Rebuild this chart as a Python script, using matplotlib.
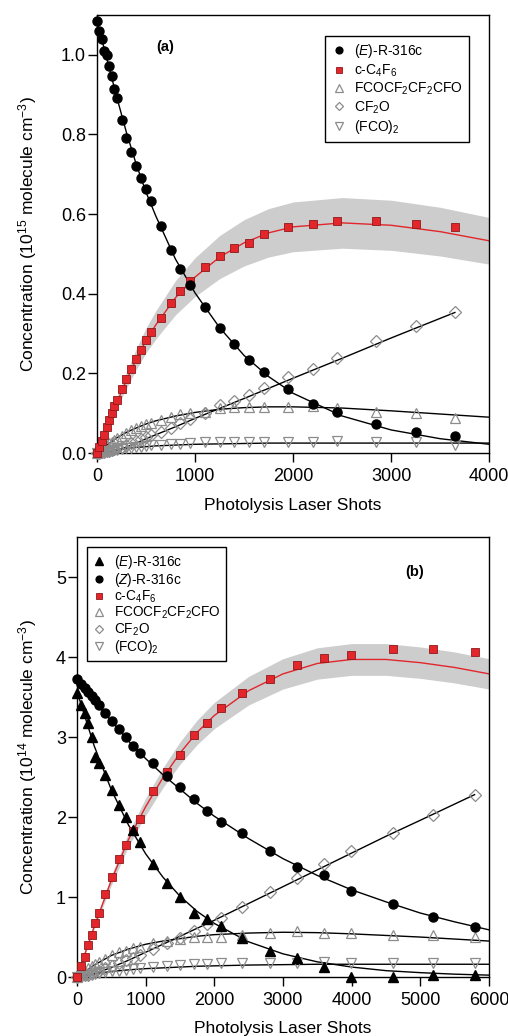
import numpy as np
import matplotlib
matplotlib.use('Agg')
import matplotlib.pyplot as plt

plt.rcParams['font.family'] = ['Liberation Sans', 'DejaVu Sans']
plt.rcParams['mathtext.fontset'] = 'custom'
plt.rcParams['mathtext.rm'] = 'Liberation Sans'
plt.rcParams['mathtext.it'] = 'Liberation Sans:italic'
plt.rcParams['mathtext.bf'] = 'Liberation Sans:bold'
plt.rcParams['mathtext.default'] = 'regular'

# ---- panel (a): (E)-R-316c photolysis ----
shots_a = [0, 25, 50, 75, 100, 125, 150, 175, 200, 250, 300, 350, 400, 450, 500, 550,
           650, 750, 850, 950, 1100, 1250, 1400, 1550, 1700, 1950, 2200, 2450, 2850, 3250, 3650]
e316c_a = [1.085, 1.060, 1.039, 1.009, 0.999, 0.972, 0.946, 0.915, 0.892, 0.837, 0.792, 0.755,
           0.721, 0.691, 0.662, 0.632, 0.570, 0.510, 0.462, 0.422, 0.367, 0.314, 0.274, 0.233,
           0.204, 0.162, 0.122, 0.102, 0.074, 0.054, 0.044]
c4f6_a = [0.0, 0.015, 0.030, 0.045, 0.066, 0.083, 0.100, 0.118, 0.132, 0.160, 0.185, 0.211,
          0.235, 0.260, 0.284, 0.304, 0.338, 0.376, 0.406, 0.432, 0.468, 0.494, 0.516, 0.528,
          0.549, 0.568, 0.574, 0.582, 0.582, 0.576, 0.568]
dicarb_a = [0.0, 0.005, 0.010, 0.015, 0.020, 0.024, 0.028, 0.033, 0.037, 0.044, 0.051, 0.057,
            0.062, 0.067, 0.072, 0.076, 0.083, 0.090, 0.097, 0.101, 0.104, 0.112, 0.115, 0.115,
            0.115, 0.115, 0.118, 0.112, 0.104, 0.100, 0.087]
cf2o_a = [0.0, 0.001, 0.002, 0.003, 0.004, 0.006, 0.008, 0.010, 0.012, 0.016, 0.020, 0.026,
          0.031, 0.036, 0.041, 0.046, 0.054, 0.064, 0.075, 0.085, 0.100, 0.120, 0.131, 0.146,
          0.163, 0.190, 0.212, 0.238, 0.282, 0.319, 0.353]
fco2_a = [0.0, 0.001, 0.002, 0.003, 0.004, 0.005, 0.006, 0.007, 0.008, 0.010, 0.012, 0.013,
          0.015, 0.016, 0.018, 0.019, 0.021, 0.022, 0.023, 0.024, 0.027, 0.028, 0.028, 0.028,
          0.027, 0.028, 0.027, 0.031, 0.027, 0.027, 0.020]

# model curves (a)
fit_shots_a = [0, 100, 200, 300, 400, 500, 600, 800, 1000, 1250, 1500, 1750, 2000, 2500, 3000, 3500, 4000]
e316c_fit_a = [1.085, 0.99, 0.895, 0.805, 0.725, 0.655, 0.595, 0.487, 0.402, 0.315, 0.245, 0.192,
               0.150, 0.093, 0.058, 0.036, 0.022]
c4f6_fit_a = [0.0, 0.062, 0.125, 0.183, 0.236, 0.283, 0.322, 0.390, 0.442, 0.492, 0.528, 0.553,
              0.568, 0.578, 0.572, 0.556, 0.533]
dicarb_fit_a = [0.0, 0.020, 0.038, 0.052, 0.063, 0.073, 0.081, 0.093, 0.102, 0.110, 0.114, 0.116,
                0.116, 0.113, 0.106, 0.098, 0.090]
fco2_fit_a = [0.0, 0.004, 0.008, 0.011, 0.014, 0.016, 0.018, 0.020, 0.022, 0.023, 0.024, 0.025,
              0.025, 0.025, 0.025, 0.025, 0.025]
cf2o_fit_shots_a = [0, 100, 200, 300, 400, 500, 600, 800, 1000, 1500, 2000, 2500, 3000, 3650]
cf2o_fit_a = [0.0, 0.002, 0.007, 0.015, 0.025, 0.036, 0.046, 0.066, 0.087, 0.137, 0.188, 0.238, 0.289, 0.353]
band_frac_a = 0.11

# ---- panel (b): (E)/(Z) mixture ----
shots_b = [0, 65, 115, 165, 215, 265, 320, 410, 515, 615, 715, 815, 915, 1110, 1305, 1500,
           1705, 1900, 2100, 2405, 2810, 3200, 3590, 3990, 4600, 5190, 5790]
e316c_b = [3.55, 3.40, 3.30, 3.17, 3.00, 2.75, 2.67, 2.53, 2.34, 2.15, 2.00, 1.84, 1.69, 1.41,
           1.18, 1.00, 0.80, 0.73, 0.64, 0.49, 0.33, 0.24, 0.12, 0.0, 0.0, 0.03, 0.02]
z316c_b = [3.73, 3.66, 3.61, 3.56, 3.51, 3.46, 3.40, 3.30, 3.20, 3.10, 3.00, 2.89, 2.80, 2.67,
           2.51, 2.38, 2.23, 2.07, 1.94, 1.80, 1.58, 1.37, 1.28, 1.08, 0.91, 0.75, 0.62]
c4f6_b = [0.0, 0.14, 0.25, 0.40, 0.53, 0.67, 0.80, 1.04, 1.25, 1.47, 1.65, 1.82, 1.98, 2.33,
          2.56, 2.78, 3.03, 3.17, 3.36, 3.55, 3.73, 3.90, 3.99, 4.03, 4.10, 4.10, 4.06]
dicarb_b = [0.0, 0.05, 0.08, 0.11, 0.14, 0.16, 0.19, 0.23, 0.27, 0.31, 0.33, 0.36, 0.38, 0.43,
            0.45, 0.48, 0.50, 0.50, 0.50, 0.53, 0.55, 0.57, 0.55, 0.55, 0.53, 0.52, 0.50]
cf2o_b = [0.0, 0.01, 0.02, 0.03, 0.05, 0.06, 0.08, 0.11, 0.14, 0.18, 0.21, 0.24, 0.27, 0.35,
          0.42, 0.49, 0.58, 0.66, 0.74, 0.87, 1.06, 1.24, 1.41, 1.57, 1.80, 2.03, 2.28]
fco2_b = [0.0, 0.01, 0.02, 0.03, 0.03, 0.04, 0.05, 0.06, 0.07, 0.08, 0.09, 0.10, 0.11, 0.12,
          0.14, 0.15, 0.16, 0.16, 0.17, 0.18, 0.18, 0.18, 0.19, 0.17, 0.18, 0.18, 0.17]

# model curves (b)
fit_shots_b = [0, 250, 500, 750, 1000, 1250, 1500, 1750, 2000, 2500, 3000, 3500, 4000, 4500, 5000, 5500, 6000]
e316c_fit_b = [3.57, 2.89, 2.34, 1.90, 1.54, 1.25, 1.01, 0.82, 0.67, 0.44, 0.29, 0.19, 0.125,
               0.08, 0.055, 0.036, 0.024]
z316c_fit_b = [3.72, 3.45, 3.20, 2.95, 2.73, 2.53, 2.35, 2.17, 2.01, 1.73, 1.48, 1.27, 1.09,
               0.94, 0.80, 0.69, 0.59]
c4f6_fit_b = [0.0, 0.63, 1.21, 1.72, 2.13, 2.49, 2.80, 3.06, 3.27, 3.58, 3.79, 3.92, 3.97,
              3.97, 3.93, 3.87, 3.79]
dicarb_fit_b = [0.0, 0.15, 0.27, 0.35, 0.41, 0.45, 0.48, 0.51, 0.53, 0.55, 0.56, 0.555, 0.54,
                0.52, 0.50, 0.475, 0.45]
fco2_fit_b = [0.0, 0.04, 0.07, 0.09, 0.105, 0.115, 0.125, 0.135, 0.14, 0.15, 0.155, 0.16, 0.16,
              0.16, 0.16, 0.16, 0.16]
cf2o_fit_shots_b = [0, 250, 500, 750, 1000, 1500, 2000, 2500, 3000, 3500, 4000, 4500, 5000, 5790]
cf2o_fit_b = [0.0, 0.04, 0.12, 0.21, 0.31, 0.51, 0.71, 0.92, 1.13, 1.34, 1.55, 1.76, 1.96, 2.28]
band_frac_b = 0.05

lab_e = '($\\mathit{E}$)-R-316c'
lab_z = '($\\mathit{Z}$)-R-316c'
lab_c4f6 = 'c-C$_4$F$_6$'
lab_dicarb = 'FCOCF$_2$CF$_2$CFO'
lab_cf2o = 'CF$_2$O'
lab_fco2 = '(FCO)$_2$'

RED = '#e2262b'
RED_EDGE = '#8e1a1a'
GREY = '#8c8c8c'


def fit_line(ax, x, y, color='black'):
    ax.plot(x, y, color=color, lw=1.0, zorder=3)


def open_points(ax, x, y, marker, ms):
    return ax.plot(x, y, ls='none', marker=marker, ms=ms, mfc='none', mec=GREY, mew=0.9,
                   zorder=4, clip_on=False)[0]


def red_band(ax, x, y, frac):
    y = np.array(y)
    ax.fill_between(x, y * (1 - frac), y * (1 + frac), color='#cdcdcd', lw=0, zorder=1)
    ax.plot(x, y, color=RED, lw=1.0, zorder=2)


def red_squares(ax, x, y):
    return ax.plot(x, y, ls='none', marker='s', ms=6.2, mfc=RED, mec=RED_EDGE, mew=0.6,
                   zorder=5, clip_on=False)[0]


def style_axis(ax, xmax, ymax, yticks, ylabel, ylab_x, xlab_y):
    ax.set_xlim(0, xmax)
    ax.set_ylim(0, ymax)
    ax.set_yticks(yticks)
    ax.tick_params(direction='out', length=6.5, width=1.0, labelsize=13)
    ax.tick_params(axis='y', pad=1.5)
    ax.tick_params(axis='x', pad=4)
    for s in ax.spines.values():
        s.set_linewidth(1.0)
    ax.set_xlabel('Photolysis Laser Shots', fontsize=12.5)
    ax.set_ylabel(ylabel, fontsize=12.5)
    ax.xaxis.set_label_coords(0.5, xlab_y)
    ax.xaxis.label.set_verticalalignment('center')
    ax.yaxis.set_label_coords(ylab_x, 0.5)
    ax.yaxis.label.set_verticalalignment('center')


fig = plt.figure(figsize=(5.08, 10.36), dpi=100)

# panel (a)
ax1 = fig.add_axes([0.191, 0.5627, 0.772, 0.4228])
red_band(ax1, fit_shots_a, c4f6_fit_a, band_frac_a)
fit_line(ax1, fit_shots_a, e316c_fit_a)
fit_line(ax1, fit_shots_a, dicarb_fit_a)
fit_line(ax1, fit_shots_a, fco2_fit_a)
fit_line(ax1, cf2o_fit_shots_a, cf2o_fit_a)
h_dicarb = open_points(ax1, shots_a, dicarb_a, '^', 7)
h_cf2o = open_points(ax1, shots_a, cf2o_a, 'D', 6)
h_fco2 = open_points(ax1, shots_a, fco2_a, 'v', 7)
h_c4f6 = red_squares(ax1, shots_a, c4f6_a)
h_e = ax1.plot(shots_a, e316c_a, ls='none', marker='o', ms=6.5, color='black', zorder=6,
               clip_on=False)[0]
ax1.legend([h_e, h_c4f6, h_dicarb, h_cf2o, h_fco2],
           [lab_e, lab_c4f6, lab_dicarb, lab_cf2o, lab_fco2],
           loc='upper right', bbox_to_anchor=(0.948, 0.952), fontsize=10, markerscale=0.75,
           frameon=True, fancybox=False, edgecolor='black', framealpha=1,
           handlelength=1.0, handletextpad=0.6, labelspacing=0.15, borderpad=0.45,
           borderaxespad=0)
ax1.get_legend().get_frame().set_linewidth(1.0)
ax1.text(0.173, 0.927, '(a)', transform=ax1.transAxes, fontsize=10.5, fontweight='bold',
         ha='center', va='center')
style_axis(ax1, 4000, 1.1, [0.0, 0.2, 0.4, 0.6, 0.8, 1.0],
           'Concentration (10$^{15}$ molecule cm$^{-3}$)', -0.176, -0.119)
ax1.set_yticklabels(['%.1f' % v for v in [0.0, 0.2, 0.4, 0.6, 0.8, 1.0]])

# panel (b)
ax2 = fig.add_axes([0.1516, 0.0569, 0.811, 0.4247])
red_band(ax2, fit_shots_b, c4f6_fit_b, band_frac_b)
fit_line(ax2, fit_shots_b, e316c_fit_b)
fit_line(ax2, fit_shots_b, z316c_fit_b)
fit_line(ax2, fit_shots_b, dicarb_fit_b)
fit_line(ax2, fit_shots_b, fco2_fit_b)
fit_line(ax2, cf2o_fit_shots_b, cf2o_fit_b)
h_dicarb = open_points(ax2, shots_b, dicarb_b, '^', 7)
h_cf2o = open_points(ax2, shots_b, cf2o_b, 'D', 6)
h_fco2 = open_points(ax2, shots_b, fco2_b, 'v', 7)
h_c4f6 = red_squares(ax2, shots_b, c4f6_b)
h_e = ax2.plot(shots_b, e316c_b, ls='none', marker='^', ms=7, color='black', zorder=6,
               clip_on=False)[0]
h_z = ax2.plot(shots_b, z316c_b, ls='none', marker='o', ms=6.5, color='black', zorder=6,
               clip_on=False)[0]
ax2.legend([h_e, h_z, h_c4f6, h_dicarb, h_cf2o, h_fco2],
           [lab_e, lab_z, lab_c4f6, lab_dicarb, lab_cf2o, lab_fco2],
           loc='upper left', bbox_to_anchor=(0.024, 0.977), fontsize=9.8, markerscale=0.75,
           frameon=True, fancybox=False, edgecolor='black', framealpha=1,
           handlelength=1.0, handletextpad=0.6, labelspacing=0.0, borderpad=0.4,
           borderaxespad=0)
ax2.get_legend().get_frame().set_linewidth(1.0)
ax2.text(0.820, 0.920, '(b)', transform=ax2.transAxes, fontsize=10.5, fontweight='bold',
         ha='center', va='center')
style_axis(ax2, 6000, 5.5, [0, 1, 2, 3, 4, 5],
           'Concentration (10$^{14}$ molecule cm$^{-3}$)', -0.119, -0.116)

fig.savefig('out.png', dpi=100)
